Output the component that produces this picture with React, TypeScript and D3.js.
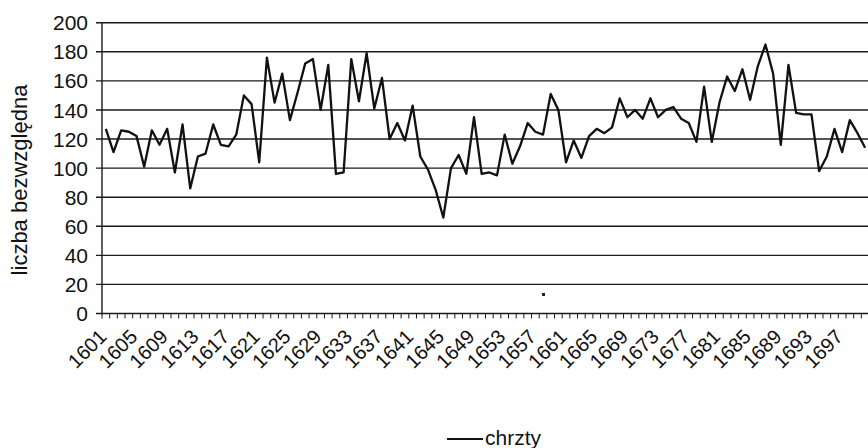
import React from 'react';
import * as d3 from 'd3';

// baptisms per year, 1601-1700
const years: number[] = Array.from({ length: 100 }, (_, i) => 1601 + i);
const chrzty: number[] = [
  127, 111, 126, 125, 122, 101, 126, 116, 127, 97,
  130, 86, 108, 110, 130, 116, 115, 123, 150, 144,
  104, 176, 145, 165, 133, 152, 172, 175, 140, 171,
  96, 97, 175, 146, 179, 141, 162, 120, 131, 119,
  143, 108, 99, 85, 66, 100, 109, 96, 135, 96,
  97, 95, 123, 103, 115, 131, 125, 123, 151, 140,
  104, 119, 107, 122, 127, 124, 128, 148, 135, 140,
  134, 148, 135, 140, 142, 134, 131, 118, 156, 118,
  145, 163, 153, 168, 147, 170, 185, 165, 116, 171,
  138, 137, 137, 98, 108, 127, 111, 133, 124, 114,
];
const yTicks: number[] = [0, 20, 40, 60, 80, 100, 120, 140, 160, 180, 200];
const labelYears: number[] = years.filter((_, i) => i % 4 === 0);

const W = 868;
const H = 448;
const FONT = "'Liberation Sans', Arial, Helvetica, sans-serif";

export default function App() {
  const left = 102;
  const right = 869;
  const top = 22.7;
  const bottom = 313.5;

  const x = d3.scaleBand<number>().domain(years).range([left, right]).padding(0);
  const y = d3.scaleLinear().domain([0, 200]).range([bottom, top]);
  const cx = (yr: number) => (x(yr) ?? 0) + x.bandwidth() / 2;

  const line = d3.line<number>()
    .x((_, i) => cx(years[i]))
    .y(d => y(d));

  // category boundaries for tick marks
  const boundaries = years.map(yr => x(yr) ?? 0).concat([right]);

  return (
    <div style={{ position: 'fixed', left: 0, top: 0 }}>
      <svg width={W} height={H} style={{ display: 'block', background: '#fff' }}>
        {/* gridlines */}
        {yTicks.map(t => (
          <line key={`g${t}`} x1={left - 6} x2={W} y1={y(t)} y2={y(t)}
            stroke="#1a1a1a" strokeWidth={1.4} />
        ))}
        {/* y axis */}
        <line x1={left} x2={left} y1={top} y2={bottom + 1} stroke="#1a1a1a" strokeWidth={1.4} />
        {yTicks.map(t => (
          <text key={`yl${t}`} x={88} y={y(t)} dy="0.36em" textAnchor="end"
            fontFamily={FONT} fontSize={21} fill="#111">{t}</text>
        ))}
        <text transform="translate(27,180) rotate(-90)" textAnchor="middle"
          fontFamily={FONT} fontSize={22} fill="#111">liczba bezwzględna</text>

        {/* x tick marks */}
        {boundaries.map((bx, i) => (
          <line key={`xt${i}`} x1={bx} x2={bx} y1={bottom} y2={bottom + 5} stroke="#1a1a1a" strokeWidth={1} />
        ))}
        {labelYears.map(yr => (
          <text key={`xl${yr}`} transform={`translate(${cx(yr) + 2},338) rotate(-45)`}
            textAnchor="end" fontFamily={FONT} fontSize={20} fill="#111">{yr}</text>
        ))}

        {/* series */}
        <path d={line(chrzty) ?? ''} fill="none" stroke="#111" strokeWidth={2.3} strokeLinejoin="round" />

        {/* speck from the scan */}
        <rect x={542} y={293} width={3} height={3} fill="#222" />

        {/* legend */}
        <line x1={447} x2={483} y1={439} y2={439} stroke="#111" strokeWidth={1.8} />
        <text x={485} y={444.5} fontFamily={FONT} fontSize={21} fill="#111">chrzty</text>
      </svg>
    </div>
  );
}
